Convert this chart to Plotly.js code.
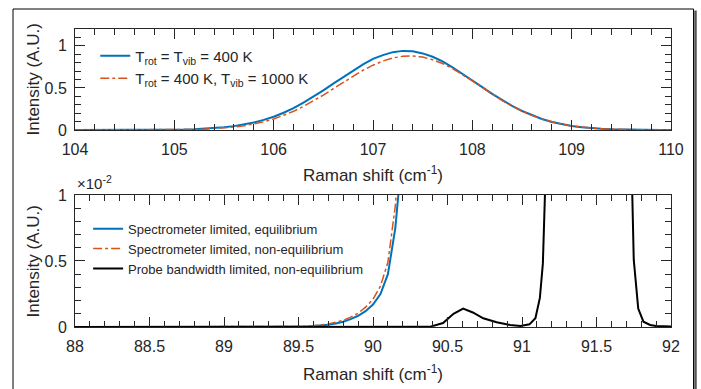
<!DOCTYPE html>
<html>
<head>
<meta charset="utf-8">
<script src="https://cdn.plot.ly/plotly-3.0.1.min.js"></script>
<style>
html,body{margin:0;padding:0;background:#fff;}
#chart{width:701px;height:389px;}
</style>
</head>
<body>
<div id="chart"></div>
<script>
// ---------- Top panel: Raman shift 104–110 cm^-1 ----------
const topX = [104.0,104.1,104.2,104.3,104.4,104.5,104.6,104.7,104.8,104.9,
  105.0,105.1,105.2,105.3,105.4,105.5,105.6,105.7,105.8,105.9,
  106.0,106.1,106.2,106.3,106.4,106.5,106.6,106.7,106.8,106.9,
  107.0,107.1,107.2,107.3,107.4,107.5,107.6,107.7,107.8,107.9,
  108.0,108.1,108.2,108.3,108.4,108.5,108.6,108.7,108.8,108.9,
  109.0,109.1,109.2,109.3,109.4,109.5,109.6,109.7,109.8,109.9,110.0];
const topEquilibrium = [0,0,0,0,0,0,0,0.0005,0.001,0.002,
  0.004,0.006,0.010,0.015,0.022,0.032,0.046,0.064,0.089,0.120,
  0.157,0.205,0.260,0.325,0.395,0.470,0.550,0.630,0.710,0.780,
  0.845,0.890,0.925,0.940,0.935,0.910,0.870,0.815,0.745,0.670,
  0.590,0.510,0.430,0.355,0.287,0.226,0.174,0.131,0.096,0.069,
  0.048,0.033,0.022,0.014,0.009,0.006,0.004,0.002,0.001,0.0005,0];
const topNonEquilibrium = [0,0,0,0,0,0,0,0.0003,0.0006,0.001,
  0.002,0.004,0.007,0.010,0.016,0.024,0.035,0.050,0.071,0.097,
  0.130,0.172,0.222,0.280,0.345,0.415,0.490,0.565,0.640,0.710,
  0.770,0.820,0.856,0.876,0.880,0.866,0.835,0.790,0.730,0.660,
  0.585,0.505,0.425,0.350,0.283,0.224,0.173,0.131,0.096,0.069,
  0.048,0.033,0.022,0.014,0.009,0.006,0.004,0.002,0.001,0.0005,0];
const topNames = ['T<sub>rot</sub> = T<sub>vib</sub> = 400 K',
                  'T<sub>rot</sub> = 400 K, T<sub>vib</sub> = 1000 K'];

// ---------- Bottom panel: Raman shift 88–92 cm^-1 (intensity in units of 10^-2) ----------
const botX = [88.0,88.5,89.0,89.1,89.2,89.3,89.4,89.5,89.55,89.6,89.65,89.7,89.75,89.8,
  89.85,89.9,89.95,90.0,90.05,90.1,90.15,90.2,90.25];
const botEquilibrium = [0,0,0,0,0.0003,0.0007,0.0015,0.003,0.0045,0.007,0.011,0.017,0.026,0.04,
  0.06,0.085,0.12,0.17,0.25,0.40,0.75,1.35,2.0];
const botNonEquilibrium = [0,0,0,0.0002,0.0005,0.001,0.0022,0.0045,0.0065,0.01,0.015,0.023,0.034,0.05,
  0.075,0.105,0.15,0.21,0.31,0.49,0.92,1.6,2.4];
const probeX = [88.0,89.0,90.0,90.3,90.38,90.47,90.54,90.605,90.67,90.74,90.83,90.92,90.99,
  91.05,91.09,91.12,91.14,91.154,91.2,91.45,91.7,91.743,91.75,91.78,91.815,91.86,91.9,92.0];
const probeY = [0,0,0,0,0.001,0.03,0.10,0.14,0.11,0.066,0.036,0.015,0.008,
  0.02,0.066,0.22,0.48,1.0,3.0,10.0,3.0,1.0,0.51,0.14,0.04,0.015,0.008,0.003];
const botNames = ['Spectrometer limited, equilibrium',
                  'Spectrometer limited, non-equilibrium',
                  'Probe bandwidth limited, non-equilibrium'];

const topXTicks = [104,105,106,107,108,109,110];
const botXTicks = [88,88.5,89,89.5,90,90.5,91,91.5,92];
const topYTicks = [0,0.5,1];
const botYTicks = [0,0.5,1];
const xTitle = 'Raman shift (cm<sup>-1</sup>)';
const yTitle = 'Intensity (A.U.)';

const BLUE = '#0072BD', ORANGE = '#D95319', TXT = '#262626';
const FONT = 'Liberation Sans, Arial, Helvetica, sans-serif';

const traces = [
  {x: topX, y: topEquilibrium, xaxis:'x', yaxis:'y', name: topNames[0], mode:'lines',
   line:{color:BLUE, width:2}, legend:'legend'},
  {x: topX, y: topNonEquilibrium, xaxis:'x', yaxis:'y', name: topNames[1], mode:'lines',
   line:{color:ORANGE, width:1.5, dash:'dashdot'}, legend:'legend'},
  {x: botX, y: botEquilibrium, xaxis:'x2', yaxis:'y2', name: botNames[0], mode:'lines',
   line:{color:BLUE, width:2}, legend:'legend2'},
  {x: botX, y: botNonEquilibrium, xaxis:'x2', yaxis:'y2', name: botNames[1], mode:'lines',
   line:{color:ORANGE, width:1.5, dash:'dashdot'}, legend:'legend2'},
  {x: probeX, y: probeY, xaxis:'x2', yaxis:'y2', name: botNames[2], mode:'lines',
   line:{color:'#000000', width:2}, legend:'legend2'}
];

function xAxis(range, ticks, minorD, anchor) {
  return {
    range: range, tickvals: ticks, ticktext: ticks.map(String),
    anchor: anchor, ticks:'inside', ticklen:10, tickwidth:1, tickcolor:TXT,
    showline:true, linecolor:TXT, linewidth:1, mirror:'allticks',
    showgrid:false, zeroline:false, ticklabelstandoff:5,
    tickfont:{family:FONT, size:16, color:TXT},
    minor:{dtick:minorD, ticks:'inside', ticklen:6, tickcolor:TXT, showgrid:false}
  };
}
function yAxis(range, ticks, domain, anchor) {
  return {
    range: range, tickvals: ticks, ticktext: ticks.map(String), domain: domain,
    anchor: anchor, ticks:'inside', ticklen:10, tickwidth:1, tickcolor:TXT,
    showline:true, linecolor:TXT, linewidth:1, mirror:'allticks',
    showgrid:false, zeroline:false, ticklabelstandoff:4,
    tickfont:{family:FONT, size:16, color:TXT},
    minor:{dtick:0.1, ticks:'inside', ticklen:6, tickcolor:TXT, showgrid:false}
  };
}
function title(text, x, y, angle) {
  return {xref:'paper', yref:'paper', x:x, y:y, xanchor:'center', yanchor:'middle',
          text:text, textangle:angle, showarrow:false,
          font:{family:FONT, size:17, color:TXT}};
}

const layout = {
  width:701, height:389,
  margin:{l:75, r:30, t:29, b:62},
  paper_bgcolor:'#ffffff', plot_bgcolor:'#ffffff',
  font:{family:FONT, color:TXT},
  xaxis: xAxis([104,110], topXTicks, 0.2, 'y'),
  yaxis: yAxis([0,1.2], topYTicks, [0.6611,1], 'x'),
  xaxis2: xAxis([88,92], botXTicks, 0.1, 'y2'),
  yaxis2: yAxis([0,1], botYTicks, [0,0.443], 'x2'),
  showlegend:true,
  legend:{x:0.034, y:0.965, xanchor:'left', yanchor:'top', bgcolor:'rgba(0,0,0,0)',
          font:{family:FONT, size:15, color:TXT}, tracegroupgap:0, itemwidth:30},
  legend2:{x:0.022, y:0.38, xanchor:'left', yanchor:'top', bgcolor:'rgba(0,0,0,0)',
          font:{family:FONT, size:13, color:TXT}, tracegroupgap:0, itemwidth:30},
  annotations:[
    {xref:'paper', yref:'paper', x:0, y:0.447, xanchor:'left', yanchor:'bottom',
     text:'×10<sup>-2</sup>', showarrow:false, font:{family:FONT, size:15, color:TXT}},
    title(xTitle, 0.5, 0.5134, 0),
    title(xTitle, 0.5, -0.1544, 0),
    title(yTitle, -0.0688, 0.8305, -90),
    title(yTitle, -0.0688, 0.2198, -90)
  ],
  shapes:[
    {type:'rect', xref:'paper', yref:'paper', x0:-0.104, x1:1.0378, y0:-0.25, y1:1.0671,
     line:{color:'#000000', width:1}, fillcolor:'rgba(0,0,0,0)', layer:'below'},
    {type:'line', xref:'paper', yref:'paper', x0:1.0411, x1:1.0411, y0:-0.25, y1:1.062,
     line:{color:'#555555', width:2.5}}
  ]
};

Plotly.newPlot('chart', traces, layout, {displayModeBar:false, staticPlot:true});
</script>
</body>
</html>
